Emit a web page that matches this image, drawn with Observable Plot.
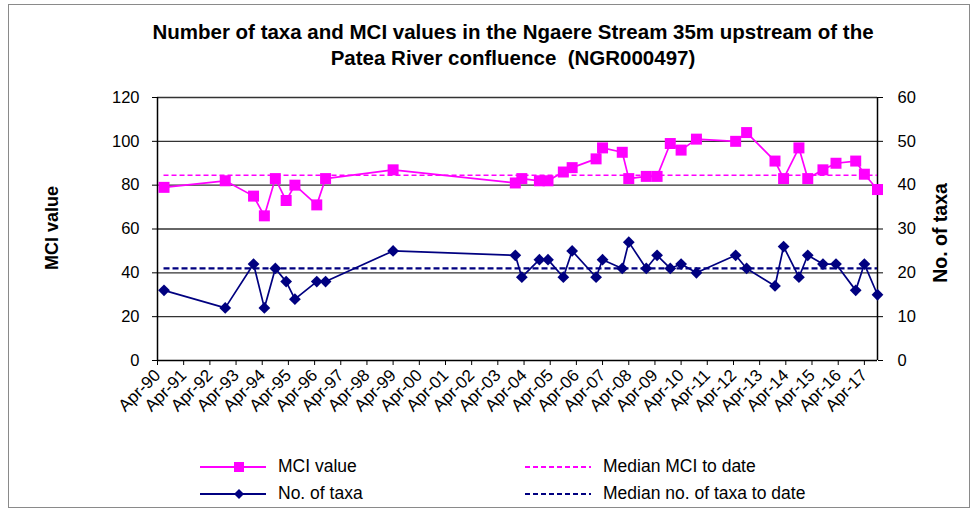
<!DOCTYPE html>
<html>
<head>
<meta charset="utf-8">
<script src="https://cdn.jsdelivr.net/npm/d3@7"></script>
<script src="https://cdn.jsdelivr.net/npm/@observablehq/plot@0.6"></script>
<style>
  body { margin: 0; background: #fff; font-family: "Liberation Sans", Arial, sans-serif; }
  #wrap { position: relative; width: 973px; height: 512px; overflow: hidden; background: #fff; }
  #frame { position: absolute; left: 8px; top: 4px; width: 962px; height: 504px; border: 1.5px solid #8a8a8a; box-sizing: border-box; }
  #title { position: absolute; left: 53px; width: 920px; top: 19px; text-align: center; font-weight: bold; font-size: 20.5px; line-height: 26px; color: #000; }
  #chart { position: absolute; left: 0; top: 80px; }
  .ylab { position: absolute; font-weight: bold; color: #000; white-space: nowrap; transform-origin: center center; }
  .leg { position: absolute; font-size: 17.5px; color: #000; white-space: nowrap; }
  .legsvg { position: absolute; }
</style>
</head>
<body>
<div id="wrap">
  <div id="frame"></div>
  <div id="title">Number of taxa and MCI values in the Ngaere Stream 35m upstream of the<br>Patea River confluence&nbsp; (NGR000497)</div>
  <div id="chart"></div>
  <div class="ylab" id="ylabL" style="font-size:18px">MCI value</div>
  <div class="ylab" id="ylabR" style="font-size:19.5px">No. of taxa</div>
  <div id="legend"></div>
</div>
<script>
// ---- data ----
const sampleDates = [
  "1990-07-01", "1992-11-01", "1993-12-01", "1994-05-01", "1994-10-01", "1995-03-01",
  "1995-07-01", "1996-05-01", "1996-09-01", "1999-04-01", "2003-12-01", "2004-03-01",
  "2004-11-01", "2005-03-01", "2005-10-01", "2006-02-01", "2007-01-01", "2007-04-01",
  "2008-01-01", "2008-04-01", "2008-12-01", "2009-05-01", "2009-11-01", "2010-04-01",
  "2010-11-01", "2012-05-01", "2012-10-01", "2013-11-01", "2014-03-01", "2014-10-01",
  "2015-02-01", "2015-09-01", "2016-03-01", "2016-12-01", "2017-04-01", "2017-10-01"
];
const mciValues = [
  79, 82, 75, 66, 83, 73, 80, 71, 83, 87,
  81, 83, 82, 82, 86, 88, 92, 97, 95, 83,
  84, 84, 99, 96, 101, 100, 104, 91, 83, 97,
  83, 87, 90, 91, 85, 78
];
const taxaValues = [
  16, 12, 22, 12, 21, 18, 14, 18, 18, 25,
  24, 19, 23, 23, 19, 25, 19, 23, 21, 27,
  21, 24, 21, 22, 20, 24, 21, 17, 26, 19,
  24, 22, 22, 16, 22, 15
];
const medianMCI = 84.5;
const medianTaxa = 21;
const xTickLabels = [
  "Apr-90","Apr-91","Apr-92","Apr-93","Apr-94","Apr-95","Apr-96","Apr-97","Apr-98","Apr-99",
  "Apr-00","Apr-01","Apr-02","Apr-03","Apr-04","Apr-05","Apr-06","Apr-07","Apr-08","Apr-09",
  "Apr-10","Apr-11","Apr-12","Apr-13","Apr-14","Apr-15","Apr-16","Apr-17"
];
const mciTicks = [0, 20, 40, 60, 80, 100, 120];
const taxaTicks = [0, 10, 20, 30, 40, 50, 60];
const xStart = "1990-04-01";
const xEnd = "2017-10-01";

// ---- build ----
const parse = d3.utcParse("%Y-%m-%d");
const parseTick = d3.utcParse("%b-%y");
const rows = sampleDates.map((d, i) => ({ date: parse(d), mci: mciValues[i], taxa2: taxaValues[i] * 2 }));
const tickDates = xTickLabels.map(parseTick);
const x0 = parse(xStart), x1 = parse(xEnd);
const first = rows[0].date, last = rows[rows.length - 1].date;

const MAG = "#ff00ff", NAVY = "#000080";

const chart = Plot.plot({
  width: 973,
  height: 356,
  marginLeft: 157,
  marginRight: 96,
  marginTop: 17,
  marginBottom: 76,
  style: { fontFamily: "'Liberation Sans', Arial, sans-serif", fontSize: "16px", color: "#000", background: "transparent", overflow: "visible" },
  x: { type: "utc", domain: [x0, x1] },
  y: { domain: [0, 120] },
  marks: [
    Plot.ruleY(mciTicks.filter(d => d > 0), { stroke: "#333", strokeWidth: 1.4 }),
    Plot.axisY({ ticks: mciTicks, tickSize: 5, tickPadding: 13, label: null, fontSize: 16.5, stroke: "#000" }),
    Plot.axisY({ anchor: "right", ticks: taxaTicks.map(d => d * 2), tickFormat: d => String(d / 2), tickSize: 5, tickPadding: 15, label: null, fontSize: 16.5, stroke: "#000" }),
    Plot.axisX({ ticks: tickDates, tickFormat: d3.utcFormat("%b-%y"), tickRotate: -45, tickSize: 5, tickPadding: 7, label: null, fontSize: 17, stroke: "#000" }),
    Plot.ruleX([x0], { stroke: "#000", strokeWidth: 1.5 }),
    Plot.ruleX([x1], { stroke: "#000", strokeWidth: 1.5 }),
    Plot.ruleY([0], { stroke: "#000", strokeWidth: 1.5 }),
    Plot.ruleY([medianMCI], { x1: first, x2: last, stroke: MAG, strokeWidth: 1.6, strokeDasharray: "5,3" }),
    Plot.ruleY([medianTaxa * 2], { x1: first, x2: last, stroke: NAVY, strokeWidth: 2.2, strokeDasharray: "6,3" }),
    Plot.line(rows, { x: "date", y: "mci", stroke: MAG, strokeWidth: 1.7 }),
    Plot.dot(rows, { x: "date", y: "mci", symbol: "square", r: 6.2, fill: MAG, stroke: "none" }),
    Plot.line(rows, { x: "date", y: "taxa2", stroke: NAVY, strokeWidth: 1.7 }),
    Plot.dot(rows, { x: "date", y: "taxa2", symbol: "diamond2", r: 5.3, fill: NAVY, stroke: "none" })
  ]
});
document.getElementById("chart").appendChild(chart);

// axis titles
const L = document.getElementById("ylabL");
L.style.left = "52px"; L.style.top = "228px";
L.style.transform = "translate(-50%,-50%) rotate(-90deg)";
const R = document.getElementById("ylabR");
R.style.left = "940px"; R.style.top = "233px";
R.style.transform = "translate(-50%,-50%) rotate(-90deg)";

// legend
const legendItems = [
  { label: "MCI value", color: MAG, dash: null, symbol: "square", x: 200, y: 467 },
  { label: "No. of taxa", color: NAVY, dash: null, symbol: "diamond", x: 200, y: 494 },
  { label: "Median MCI to date", color: MAG, dash: "5,3", symbol: null, x: 525, y: 467 },
  { label: "Median no. of taxa to date", color: NAVY, dash: "5,3", symbol: null, x: 525, y: 494 }
];
const leg = document.getElementById("legend");
legendItems.forEach(it => {
  const s = d3.create("svg").attr("class", "legsvg").attr("width", 68).attr("height", 16)
    .style("left", it.x + "px").style("top", (it.y - 8) + "px");
  s.append("line").attr("x1", 0).attr("x2", 66).attr("y1", 8).attr("y2", 8)
    .attr("stroke", it.color).attr("stroke-width", it.dash ? 1.8 : 2.2)
    .attr("stroke-dasharray", it.dash);
  if (it.symbol === "square") s.append("rect").attr("x", 34).attr("y", 3).attr("width", 10).attr("height", 10).attr("fill", it.color);
  if (it.symbol === "diamond") s.append("path").attr("d", "M39,3L44,8L39,13L34,8Z").attr("fill", it.color);
  leg.appendChild(s.node());
  const t = document.createElement("div");
  t.className = "leg";
  t.textContent = it.label;
  t.style.left = (it.x + 78) + "px";
  t.style.top = (it.y - 11) + "px";
  leg.appendChild(t);
});
</script>
</body>
</html>
